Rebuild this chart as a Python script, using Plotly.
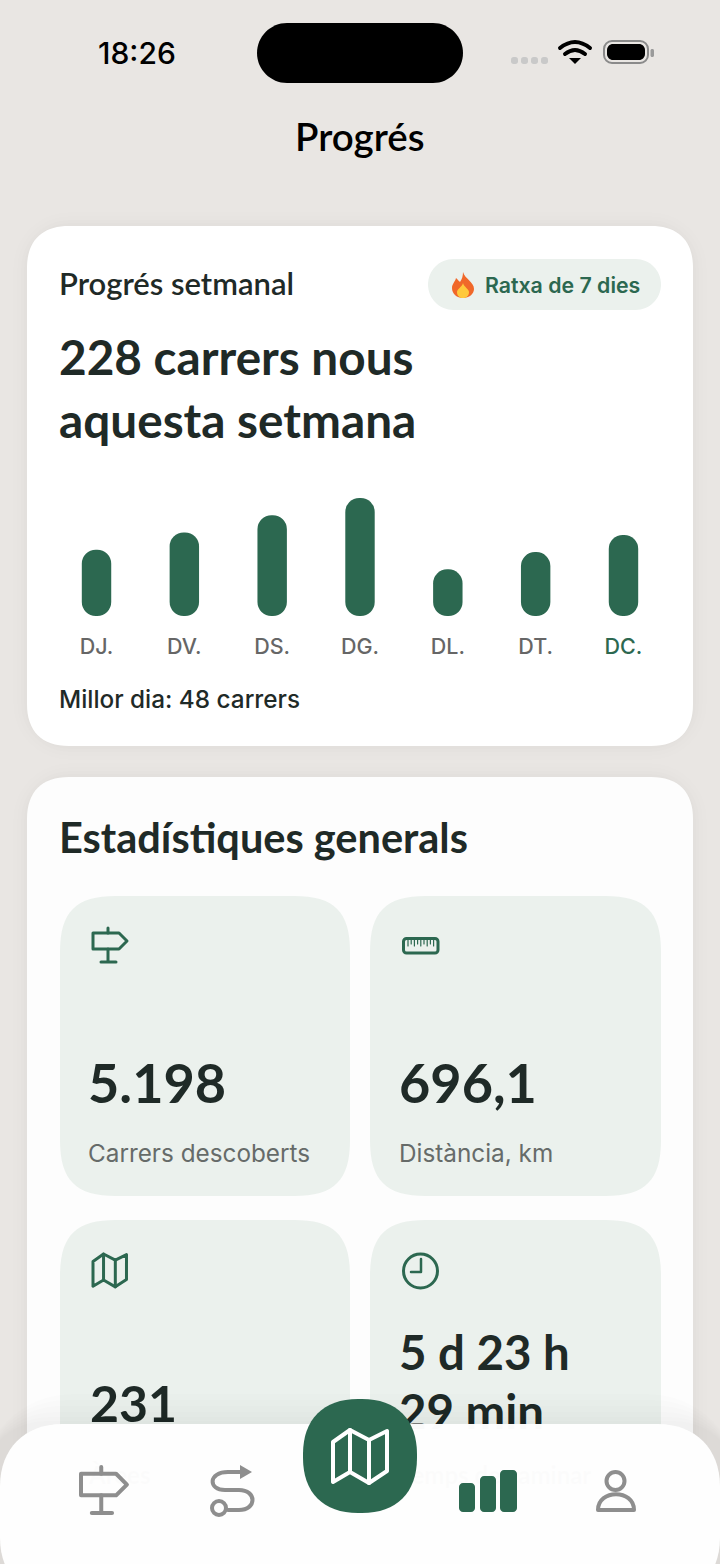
import plotly.graph_objects as go

# chart data
days = ['DJ.', 'DV.', 'DS.', 'DG.', 'DL.', 'DT.', 'DC.']
new_streets = [27, 34, 41, 48, 19, 26, 33]
today = 'DC.'

screen_title = 'Progrés'
card_title = 'Progrés setmanal'
streak_label = 'Ratxa de 7 dies'
headline = ['228 carrers nous', 'aquesta setmana']
best_day = 'Millor dia: 48 carrers'
stats_title = 'Estadístiques generals'
stat_values = ['5.198', '696,1']
stat_labels = ['Carrers descoberts', 'Distància, km']

GREEN = '#2C6850'
DARK = '#1F2A27'
TILE = '#EBF1ED'
GREY = '#8E8E8E'
HEAD = 'Lato'
BODY = 'Inter'

shapes = []
notes = []


def rr(x0, y0, x1, y1, r, fill, k=0.55, line=None, lw=0, layer='below'):
    # rounded rect as a path, larger k gives the softer ios corner
    c = r * (1 - k)
    p = (f'M{x0 + r},{y0} L{x1 - r},{y0} C{x1 - c},{y0} {x1},{y0 + c} {x1},{y0 + r} '
         f'L{x1},{y1 - r} C{x1},{y1 - c} {x1 - c},{y1} {x1 - r},{y1} '
         f'L{x0 + r},{y1} C{x0 + c},{y1} {x0},{y1 - c} {x0},{y1 - r} '
         f'L{x0},{y0 + r} C{x0},{y0 + c} {x0 + c},{y0} {x0 + r},{y0} Z')
    add(p, fill, line, lw, layer)


def add(path, fill=None, line=None, lw=0, layer='below'):
    shapes.append(dict(type='path', xref='x', yref='y', path=path, layer=layer,
                       fillcolor=fill or 'rgba(0,0,0,0)',
                       line=dict(color=line or 'rgba(0,0,0,0)', width=lw)))


def stroke(path, color, lw, layer='below'):
    add(path, None, color, lw, layer)


def ellipse(cx, cy, rx, ry, fill=None, line=None, lw=0, layer='below'):
    shapes.append(dict(type='circle', xref='x', yref='y', x0=cx - rx, x1=cx + rx, y0=cy - ry, y1=cy + ry,
                       layer=layer, fillcolor=fill or 'rgba(0,0,0,0)',
                       line=dict(color=line or 'rgba(0,0,0,0)', width=lw)))


def txt(x, y, s, size, color, family=BODY, weight=400, anchor='left'):
    # annotations sit a few px right of x
    if anchor == 'left':
        x -= 3.5
    notes.append(dict(x=x, y=y, xref='x', yref='y', text=s, showarrow=False, xanchor=anchor, yanchor='middle',
                      font=dict(size=size, color=color, family=family, weight=weight)))


def signpost(x, y, s, color, lw, layer='below'):
    stroke(f'M{x},{y + 5 * s} L{x + 26 * s},{y + 5 * s} L{x + 34 * s},{y + 13 * s} L{x + 26 * s},{y + 21 * s} '
           f'L{x},{y + 21 * s} Z', color, lw, layer)
    stroke(f'M{x + 15 * s},{y} L{x + 15 * s},{y + 5 * s} M{x + 15 * s},{y + 21 * s} L{x + 15 * s},{y + 34 * s} '
           f'M{x + 8 * s},{y + 34 * s} L{x + 23 * s},{y + 34 * s}', color, lw, layer)


def map_icon(x, y, s, color, lw, layer='below'):
    pts = [(0, 12), (17, 0), (36, 10), (54, 1), (54, 41), (36, 53), (17, 42), (0, 52)]
    p = 'M' + ' L'.join(f'{x + a * s},{y + b * s}' for a, b in pts) + ' Z'
    stroke(p, color, lw, layer)
    stroke(f'M{x + 17 * s},{y} L{x + 17 * s},{y + 42 * s} M{x + 36 * s},{y + 10 * s} L{x + 36 * s},{y + 53 * s}',
           color, lw, layer)


# card shadows
for grow, alpha in [(14, 0.004), (10, 0.005), (6, 0.007), (3, 0.008)]:
    rr(27 - grow, 226 - grow, 693 + grow, 746 + grow, 42 + grow, f'rgba(0,0,0,{alpha})')
    rr(27 - grow, 777 - grow, 693 + grow, 1580, 42 + grow, f'rgba(0,0,0,{alpha})')

# status bar
rr(257, 23, 463, 83, 30, '#000000')
for dot in (511, 521, 531, 541):
    rr(dot, 57, dot + 7, 64, 2.5, '#C9C9C9')
stroke('M560,48 Q575,36 590,48', '#000000', 4)
stroke('M565,54 Q575,46 585,54', '#000000', 4)
add('M569,58 L581,58 L575,64 Z', '#000000')
rr(604, 41, 648, 63, 8, None, line='#8A8A8A', lw=2)
rr(607, 44, 645, 60, 6, '#000000')
rr(650.5, 49, 654, 57, 1.5, '#9A9A9A')
txt(137, 53, '18:26', 30, '#000000', BODY, 500, 'center')
txt(360, 136, screen_title, 38.5, '#000000', HEAD, 600, 'center')

# weekly card
rr(27, 226, 693, 746, 42, '#FFFFFF', k=0.65)
txt(60, 283, card_title, 31, DARK, HEAD, 600)
rr(428, 259, 661, 310, 25.5, TILE)
add('M463,272 C465,279 474,282 474,289 C474,294 469,298 463,298 C457,298 452,294 452,288 C452,284 455,282 456,278 '
    'C458,280 459,281 460,282 C462,279 463,276 463,272 Z', '#F0682A')
add('M463,283 C464,287 469,289 469,292 C469,296 466,298 463,298 C460,298 457,296 457,292 C457,289 462,287 463,283 Z',
    '#FFC93C')
txt(486, 285, streak_label, 21.3, GREEN, BODY, 600)
txt(60, 356.5, headline[0], 47.7, DARK, HEAD, 700)
txt(60, 419, headline[1], 47.7, DARK, HEAD, 700)
txt(60, 699, best_day, 24.3, DARK, BODY, 500)

# stats card
rr(27, 777, 693, 1600, 42, '#FDFDFD', k=0.65)
txt(60, 837, stats_title, 41.5, DARK, HEAD, 700)
for x0, x1 in ((60, 350), (370, 661)):
    rr(x0, 896, x1, 1196, 56, TILE, k=0.72)
    rr(x0, 1220, x1, 1600, 56, TILE, k=0.72)
for x, value, label in zip((89, 400), stat_values, stat_labels):
    txt(x, 1082, value, 54, DARK, HEAD, 700)
    txt(x, 1153, label, 24.3, '#666B69', BODY, 400)

# tile icons
signpost(93, 928, 1, GREEN, 3)
rr(403.5, 938.5, 438, 953, 3, None, line=GREEN, lw=3)
for i in range(9):
    tick = 408 + i * 3.2
    stroke(f'M{tick},940 L{tick},{946 if i % 2 == 0 else 944}', GREEN, 1.2)
map_icon(93, 1254, 0.62, GREEN, 3)
ellipse(420.5, 1271, 17, 17, None, GREEN, 3)
stroke('M421,1259 L421,1272 L411,1272', GREEN, 2.5)

# text behind the bottom bar, drawn as traces so the bar can cover it
under = [(90, 1409, '231', 50, DARK), (399, 1358, '5 d 23 h', 47.4, DARK), (399, 1417, '29 min', 47.4, DARK),
         (89, 1478, 'Àrees', 24, '#666B69'), (400, 1478, 'Temps de caminar', 24, '#666B69')]
under_trace = go.Scatter(x=[u[0] for u in under], y=[u[1] for u in under], text=[u[2] for u in under],
                         mode='text', textposition='middle right', hoverinfo='skip', showlegend=False,
                         textfont=dict(size=[u[3] for u in under], color=[u[4] for u in under],
                                       family=HEAD, weight=700), xaxis='x', yaxis='y')

# bottom bar, its soft shadow and the frosted fill
for grow in (30, 24, 18, 12, 7, 3):
    rr(-20, 1424 - grow, 740, 1600, 62 + grow, 'rgba(0,0,0,0.006)', layer='above')
rr(0, 1424, 720, 1600, 62, 'rgba(254,254,254,0.985)', k=0.6, layer='above')
signpost(81, 1467, 1.35, GREY, 4, 'above')
stroke('M241,1472 L228,1472 C208,1472 208,1490 225,1490 L239,1490 C257,1490 257,1510 239,1510 L228,1510',
       GREY, 4, 'above')
ellipse(219, 1508, 7, 7, None, GREY, 4, 'above')
add('M240,1465 L252,1472 L240,1479 Z', GREY, None, 0, 'above')
rr(303, 1399, 417, 1513, 55, GREEN, k=0.63, layer='above')
map_icon(333, 1430, 1, '#FFFFFF', 4, 'above')
for x0, x1, top in ((459, 475, 1483), (480, 496, 1476), (500, 517, 1470)):
    rr(x0, top, x1, 1512, 4, GREEN, layer='above')
ellipse(615.5, 1481, 9, 9, None, GREY, 4, 'above')
stroke('M598,1510 C598,1489 634,1489 634,1510 Z', GREY, 4, 'above')

tick_text = [f"<span style='color:{GREEN}'>{d}</span>" if d == today else d for d in days]

# giving the bars an explicit base makes plotly round both ends
bars = go.Bar(x=days, y=new_streets, base=0, xaxis='x2', yaxis='y2', showlegend=False, hoverinfo='skip',
              marker=dict(color=GREEN, cornerradius=15, line=dict(width=0)))

layout = go.Layout(
    width=720, height=1564, margin=dict(l=0, r=0, t=0, b=0, pad=0), autosize=False,
    paper_bgcolor='#E9E6E3', plot_bgcolor='rgba(0,0,0,0)', bargap=0.665, showlegend=False,
    xaxis=dict(range=[0, 720], domain=[0, 1], visible=False, fixedrange=True),
    yaxis=dict(range=[1564, 0], domain=[0, 1], visible=False, fixedrange=True),
    xaxis2=dict(domain=[52.6 / 720, 667.4 / 720], anchor='y2', categoryorder='array', categoryarray=days,
                tickmode='array', tickvals=days, ticktext=tick_text, showgrid=False, zeroline=False,
                showline=False, ticks='outside', ticklen=11, tickcolor='rgba(0,0,0,0)',
                tickfont=dict(size=21.5, color='#666666', family=BODY, weight=500), fixedrange=True),
    yaxis2=dict(domain=[(1564 - 616) / 1564, (1564 - 498) / 1564], anchor='x2', range=[0, 48], visible=False,
                fixedrange=True),
    shapes=shapes, annotations=notes)

fig = go.Figure(data=[under_trace, bars], layout=layout)
fig.write_html('out.html', config={'displayModeBar': False},
               post_script="document.body.style.margin='0';document.body.style.overflow='hidden';"
                           "document.querySelectorAll('.shapelayer path').forEach(function(p){"
                           "p.style.strokeLinejoin='round';p.style.strokeLinecap='round';});")
